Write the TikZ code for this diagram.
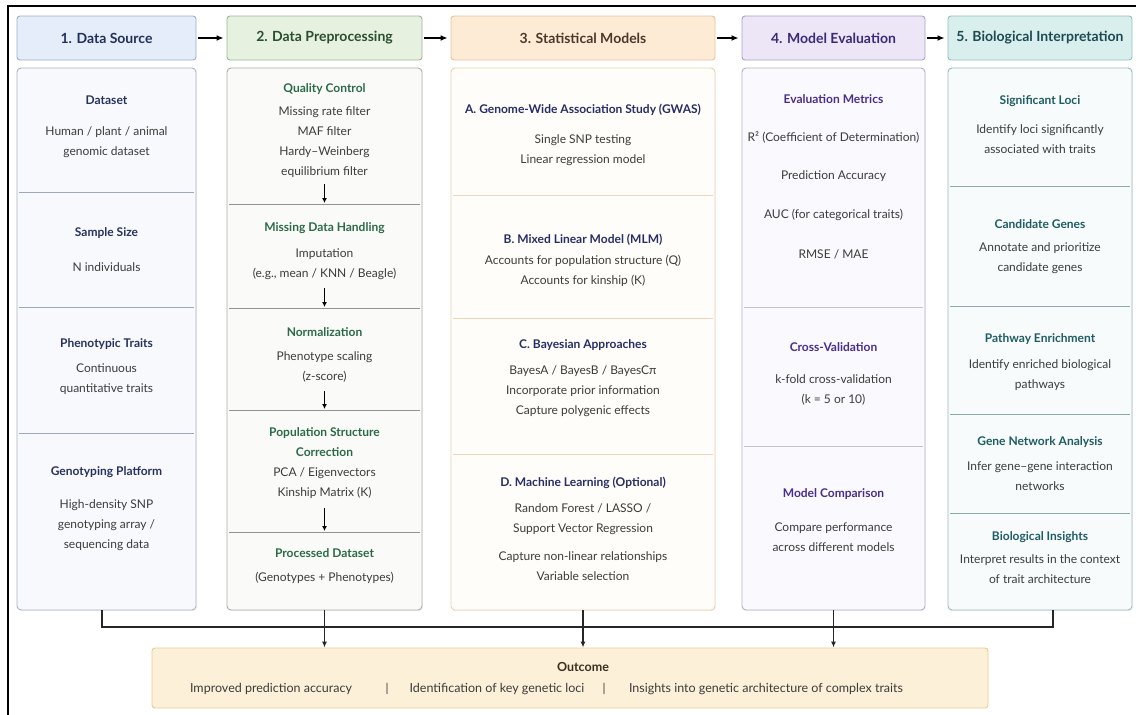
\documentclass[tikz,border=0pt]{standalone}
\usepackage{fontspec}
\setmainfont{Lato}
\usetikzlibrary{arrows.meta,shadows}
\definecolor{bodyc}{HTML}{3C3C3C}
\definecolor{hf1}{HTML}{E4EDF9}\definecolor{hd1}{HTML}{9FB0C8}\definecolor{ht1}{HTML}{22305A}
\definecolor{hf2}{HTML}{E6F1E0}\definecolor{hd2}{HTML}{9FB596}\definecolor{ht2}{HTML}{2A4F2E}
\definecolor{hf3}{HTML}{FDEBD6}\definecolor{hd3}{HTML}{E9C39A}\definecolor{ht3}{HTML}{4A3A2A}
\definecolor{hf4}{HTML}{ECE6F6}\definecolor{hd4}{HTML}{ADA1C6}\definecolor{ht4}{HTML}{3A2A78}
\definecolor{hf5}{HTML}{D9EFEE}\definecolor{hd5}{HTML}{92C0BE}\definecolor{ht5}{HTML}{1D4A50}
\definecolor{cf1}{HTML}{F7F9FC}\definecolor{cd1}{HTML}{A9B4C4}\definecolor{dv1}{HTML}{9DA8B8}\definecolor{tt1}{HTML}{28325E}
\definecolor{cf2}{HTML}{FAFBF8}\definecolor{cd2}{HTML}{A8B0A4}\definecolor{dv2}{HTML}{8E978C}\definecolor{tt2}{HTML}{2C6A47}
\definecolor{cf3}{HTML}{FFFDF9}\definecolor{cd3}{HTML}{EBD3B5}\definecolor{dv3}{HTML}{EFD6B8}\definecolor{tt3}{HTML}{262E66}
\definecolor{cf4}{HTML}{FAF9FD}\definecolor{cd4}{HTML}{B5B2C2}\definecolor{dv4}{HTML}{C3C3CB}\definecolor{tt4}{HTML}{4A2D8C}
\definecolor{cf5}{HTML}{F7FBFB}\definecolor{cd5}{HTML}{9DB9BB}\definecolor{dv5}{HTML}{8EA9AC}\definecolor{tt5}{HTML}{1F5C63}
\definecolor{of}{HTML}{FCF0D8}\definecolor{od}{HTML}{E9CC93}\definecolor{ot}{HTML}{3A3020}
\begin{document}
\begin{tikzpicture}[x=1pt,y=-1pt,
  hdrbox/.style={draw, rounded corners=3pt, line width=0.9pt, minimum height=44pt, inner sep=0pt, font=\bfseries\fontsize{14}{16}\selectfont},
  colbox/.style={draw, rounded corners=4pt, line width=0.9pt, minimum height=542pt, inner sep=0pt, drop shadow={opacity=0.12,shadow xshift=0.6pt,shadow yshift=-1.2pt}},
  ttl/.style={font=\bfseries\fontsize{12}{20}\selectfont, align=center, inner sep=0pt},
  bdy/.style={font=\fontsize{12}{20}\selectfont, align=center, text=bodyc, inner sep=0pt},
  divl/.style={line width=0.9pt},
  harr/.style={line width=1.5pt, -{Latex[length=7pt,width=6pt]}, shorten <=2pt, shorten >=3pt},
  sarr/.style={line width=1.2pt, -{Latex[length=5pt,width=5pt]}},
  conn/.style={line width=1.2pt, draw=black!85},
  barr/.style={line width=1.2pt, draw=black!85, -{Latex[length=6pt,width=5pt]}}
]
\useasboundingbox (0,0) rectangle (1136,715);
\fill[white] (0,0) rectangle (1136,715);
% frame
\draw[line width=2pt] (8,715) -- (8,6) -- (1136,6);

% headers
\node[hdrbox, fill=hf1, draw=hd1, text=ht1, minimum width=179pt] (h1) at (106.5,38) {1. Data Source};
\node[hdrbox, fill=hf2, draw=hd2, text=ht2, minimum width=195pt] (h2) at (324.5,38) {2. Data Preprocessing};
\node[hdrbox, fill=hf3, draw=hd3, text=ht3, minimum width=264pt] (h3) at (583,38) {3. Statistical Models};
\node[hdrbox, fill=hf4, draw=hd4, text=ht4, minimum width=183pt] (h4) at (833.5,38) {4. Model Evaluation};
\node[hdrbox, fill=hf5, draw=hd5, text=ht5, minimum width=184pt] (h5) at (1040,38) {5. Biological Interpretation};
\draw[harr] (h1) -- (h2);
\draw[harr] (h2) -- (h3);
\draw[harr] (h3) -- (h4);
\draw[harr] (h4) -- (h5);

% column boxes
\node[colbox, fill=cf1, draw=cd1, minimum width=179pt] (c1) at (106.5,339) {};
\node[colbox, fill=cf2, draw=cd2, minimum width=195pt] (c2) at (324.5,339) {};
\node[colbox, fill=cf3, draw=cd3, minimum width=264pt] (c3) at (583,339) {};
\node[colbox, fill=cf4, draw=cd4, minimum width=183pt] (c4) at (833.5,339) {};
\node[colbox, fill=cf5, draw=cd5, minimum width=184pt] (c5) at (1040,339) {};

% column 1
\draw[divl, draw=dv1] (19,192) -- (194,192);
\draw[divl, draw=dv1] (19,307) -- (194,307);
\draw[divl, draw=dv1] (19,433) -- (194,433);
\node[ttl, text=tt1] (c1t1) at (106.5,100) {Dataset};
\node[bdy] (c1b1) at (106.5,142) {Human / plant / animal\\genomic dataset};
\node[ttl, text=tt1] (c1t2) at (106.5,233) {Sample Size};
\node[bdy] (c1b2) at (106.5,267) {N individuals};
\node[ttl, text=tt1] (c1t3) at (106.5,344) {Phenotypic Traits};
\node[bdy] (c1b3) at (106.5,379) {Continuous\\quantitative traits};
\node[ttl, text=tt1] (c1t4) at (106.5,472) {Genotyping Platform};
\node[bdy] (c1b4) at (106.5,525) {High-density SNP\\genotyping array /\\sequencing data};

% column 2
\draw[divl, draw=dv2] (229,204) -- (420,204);
\draw[divl, draw=dv2] (229,308) -- (420,308);
\draw[divl, draw=dv2] (229,410) -- (420,410);
\draw[divl, draw=dv2] (229,532) -- (420,532);
\node[ttl, text=tt2] (c2t1) at (324.5,89) {Quality Control};
\node[bdy] (c2b1) at (324.5,142.5) {Missing rate filter\\MAF filter\\Hardy–Weinberg\\equilibrium filter};
\node[ttl, text=tt2] (c2t2) at (324.5,228) {Missing Data Handling};
\node[bdy] (c2b2) at (324.5,264.5) {Imputation\\(e.g., mean / KNN / Beagle)};
\node[ttl, text=tt2] (c2t3) at (324.5,332) {Normalization};
\node[bdy] (c2b3) at (324.5,367) {Phenotype scaling\\(z-score)};
\node[ttl, text=tt2] (c2t4) at (324.5,442) {Population Structure\\Correction};
\node[bdy] (c2b4) at (324.5,483) {PCA / Eigenvectors\\Kinship Matrix (K)};
\node[ttl, text=tt2] (c2t5) at (324.5,553) {Processed Dataset};
\node[bdy] (c2b5) at (324.5,578) {(Genotypes + Phenotypes)};
\coordinate (a1s) at (324.5,184); \coordinate (a1e) at (324.5,203);
\coordinate (a2s) at (324.5,288); \coordinate (a2e) at (324.5,307);
\coordinate (a3s) at (324.5,391); \coordinate (a3e) at (324.5,409);
\coordinate (a4s) at (324.5,508); \coordinate (a4e) at (324.5,531);
\draw[sarr] (a1s) -- (a1e);
\draw[sarr] (a2s) -- (a2e);
\draw[sarr] (a3s) -- (a3e);
\draw[sarr] (a4s) -- (a4e);

% column 3
\draw[divl, draw=dv3] (453,195) -- (713,195);
\draw[divl, draw=dv3] (453,318) -- (713,318);
\draw[divl, draw=dv3] (453,454) -- (713,454);
\node[ttl, text=tt3] (c3t1) at (583,110) {A. Genome-Wide Association Study (GWAS)};
\node[bdy] (c3b1) at (583,150.5) {Single SNP testing\\Linear regression model};
\node[ttl, text=tt3] (c3t2) at (583,240) {B. Mixed Linear Model (MLM)};
\node[bdy] (c3b2) at (583,270.5) {Accounts for population structure (Q)\\Accounts for kinship (K)};
\node[ttl, text=tt3] (c3t3) at (583,345) {C. Bayesian Approaches};
\node[bdy] (c3b3) at (583,391) {BayesA / BayesB / BayesCπ\\Incorporate prior information\\Capture polygenic effects};
\node[ttl, text=tt3] (c3t4) at (583,483) {D. Machine Learning (Optional)};
\node[bdy] (c3b4) at (583,519) {Random Forest / LASSO /\\Support Vector Regression};
\node[bdy] (c3b5) at (583,566.5) {Capture non-linear relationships\\Variable selection};

% column 4
\draw[divl, draw=dv4] (744,307) -- (923,307);
\draw[divl, draw=dv4] (744,446) -- (923,446);
\node[ttl, text=tt4] (c4t1) at (833.5,99) {Evaluation Metrics};
\node[bdy] (c4b1) at (833.5,137) {R² (Coefficient of Determination)};
\node[bdy] (c4b2) at (833.5,176) {Prediction Accuracy};
\node[bdy] (c4b3) at (833.5,215) {AUC (for categorical traits)};
\node[bdy] (c4b4) at (833.5,254) {RMSE / MAE};
\node[ttl, text=tt4] (c4t2) at (833.5,347) {Cross-Validation};
\node[bdy] (c4b5) at (833.5,389.5) {k-fold cross-validation\\(k = 5 or 10)};
\node[ttl, text=tt4] (c4t3) at (833.5,494) {Model Comparison};
\node[bdy] (c4b6) at (833.5,537) {Compare performance\\across different models};

% column 5
\draw[divl, draw=dv5] (950,186) -- (1130,186);
\draw[divl, draw=dv5] (950,306) -- (1130,306);
\draw[divl, draw=dv5] (950,414) -- (1130,414);
\draw[divl, draw=dv5] (950,513) -- (1130,513);
\node[ttl, text=tt5] (c5t1) at (1040,101) {Significant Loci};
\node[bdy] (c5b1) at (1040,139.5) {Identify loci significantly\\associated with traits};
\node[ttl, text=tt5] (c5t2) at (1040,224) {Candidate Genes};
\node[bdy] (c5b2) at (1040,258) {Annotate and prioritize\\candidate genes};
\node[ttl, text=tt5] (c5t3) at (1040,339) {Pathway Enrichment};
\node[bdy] (c5b3) at (1040,375.5) {Identify enriched biological\\pathways};
\node[ttl, text=tt5] (c5t4) at (1040,442) {Gene Network Analysis};
\node[bdy] (c5b4) at (1040,476.5) {Infer gene–gene interaction\\networks};
\node[ttl, text=tt5] (c5t5) at (1040,537) {Biological Insights};
\node[bdy] (c5b5) at (1040,569.5) {Interpret results in the context\\of trait architecture};

% outcome
\node[draw=od, fill=of, line width=0.9pt, rounded corners=3pt, minimum width=836pt, minimum height=60pt, inner sep=0pt] (out) at (570,678) {};
\node[ttl, text=ot, font=\bfseries\fontsize{12.5}{14}\selectfont] (outt) at (583,667) {Outcome};
\node[bdy, font=\fontsize{12.5}{14}\selectfont] (o1) at (271,689) {Improved prediction accuracy};
\node[bdy] (s1) at (387,689) {|};
\node[bdy, font=\fontsize{12.5}{14}\selectfont] (o2) at (497,689) {Identification of key genetic loci};
\node[bdy] (s2) at (604,689) {|};
\node[bdy, font=\fontsize{12.5}{14}\selectfont] (o3) at (766,689) {Insights into genetic architecture of complex traits};

% bottom connectors
\coordinate (L) at (102,627);
\coordinate (R) at (1053,627);
\draw[conn] (c1.south -| L) -- (L) -- (R) -- (c5.south -| R);
\draw[barr] (c2.south) -- (c2.south |- out.north);
\draw[barr] (c3.south) -- (c3.south |- out.north);
\draw[barr] (c4.south) -- (c4.south |- out.north);
\end{tikzpicture}
\end{document}
